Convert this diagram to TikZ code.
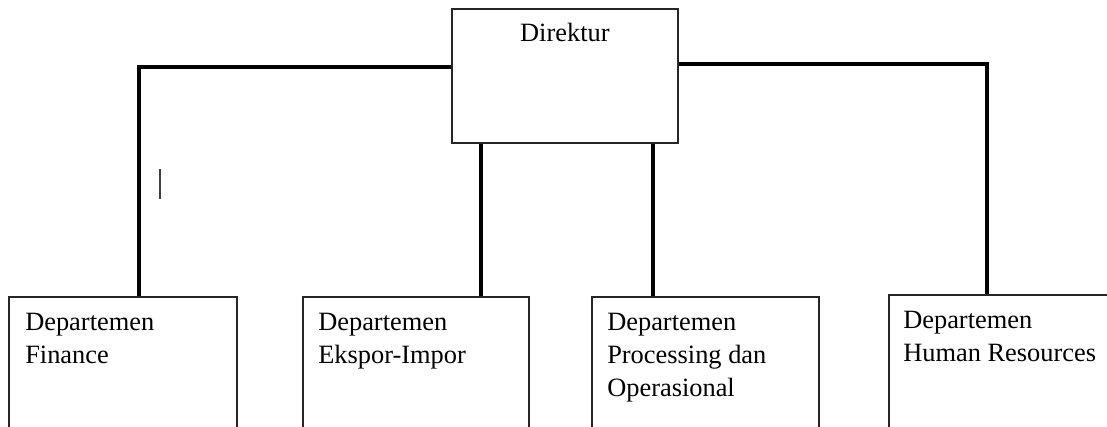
\documentclass[tikz,border=0pt]{standalone}
\usepackage{fontspec}
\setmainfont{Liberation Serif}
\usetikzlibrary{calc}
\tikzset{
	box/.style={draw=black!85, line width=1.3pt, minimum width=0.75pt*#1, minimum height=120pt, inner sep=0, anchor=north west},
	box/.default=228,
	lbl/.style={anchor=north west, align=left, inner sep=0, font=\fontsize{19.8pt}{24.8pt}\selectfont},
	link/.style={line width=2.6pt}
}

\begin{document}
\begin{tikzpicture}[x=0.75pt, y=-0.75pt]
			%%%%% START %%%%%
			
			\path[use as bounding box, clip] (0, 0) rectangle (1107, 427);
			
			\node[box=226, minimum height=100.5pt] (dir) at (451, 8) {};
			\node[lbl, anchor=base] (dir-t) at ($(dir.north)+(0, 34)$) {Direktur};
			
			\node[box=228] (fin) at (8, 296) {};
			\node[box=226] (eks) at (302, 296) {};
			\node[box=227] (pro) at (591, 296) {};
			\node[box=228] (hr) at (888, 294) {};
			
			\node[lbl] (fin-t) at ($(fin.north west)+(17, 16.5)$) {Departemen\\Finance};
			\node[lbl] (eks-t) at ($(eks.north west)+(16, 16.5)$) {Departemen\\Ekspor-Impor};
			\node[lbl] (pro-t) at ($(pro.north west)+(16, 16.5)$) {Departemen\\Processing dan\\Operasional};
			\node[lbl] (hr-t) at ($(hr.north west)+(15, 16.5)$) {Departemen\\Human Resources};
			
			\draw[link] ($(dir.north west)+(0, 59)$) -| ($(fin.north west)+(131, 0)$);
			\draw[link] ($(dir.south west)+(30, 0)$) coordinate (d2) -- (d2 |- eks.north);
			\draw[link] ($(dir.south west)+(202, 0)$) coordinate (d3) -- (d3 |- pro.north);
			\draw[link] ($(dir.north east)+(0, 56)$) -| ($(hr.north west)+(99, 0)$);
			
			\draw[line width=1.3pt, color=black!75] (160, 169) -- (160, 199);
			
			%%%%% END %%%%%
		\end{tikzpicture}
\end{document}
